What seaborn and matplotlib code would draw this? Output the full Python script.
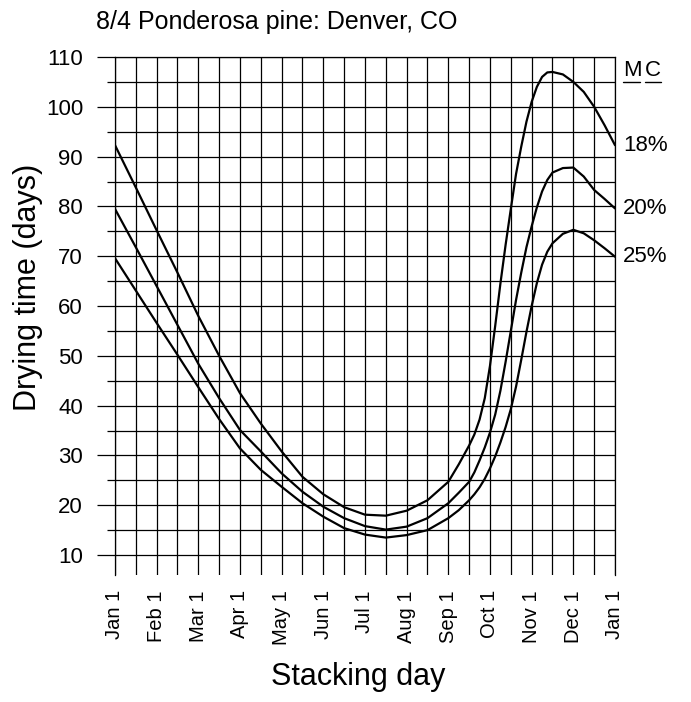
import pandas as pd
import matplotlib.pyplot as plt
import seaborn as sns
from matplotlib.ticker import MultipleLocator
from matplotlib.lines import Line2D

# stacking day as month index (0 = Jan 1, 12 = next Jan 1)
month = [0, 0.5, 1, 1.5, 2, 2.5, 3, 3.5, 4, 4.5, 5, 5.5, 6, 6.5, 7, 7.5, 8, 8.25,
         8.5, 8.625, 8.75, 8.875, 9, 9.125, 9.25, 9.375, 9.5, 9.625, 9.75, 9.875,
         10, 10.125, 10.25, 10.375, 10.5, 10.75, 11, 11.25, 11.5, 11.75, 12]

# drying time (days) for each final moisture content
mc18 = [92.3, 83.8, 75.2, 66.7, 58.0, 50.0, 42.5, 36.4, 30.8, 25.7, 22.2, 19.6, 18.1, 17.9, 18.9, 21.0, 24.7, 28.2,
        32.0, 34.2, 37.2, 41.5, 48.0, 56.0, 64.5, 72.3, 79.5, 86.5, 92.0, 97.0,
        101.0, 104.0, 106.0, 106.9, 107.0, 106.5, 105.0, 103.0, 100.0, 96.3, 92.3]
mc20 = [79.5, 71.8, 64.0, 56.2, 48.4, 41.5, 35.1, 30.8, 26.4, 22.7, 19.7, 17.4, 15.8, 15.1, 15.7, 17.4, 20.4, 22.5,
        24.7, 26.6, 29.0, 31.6, 34.6, 38.2, 43.0, 48.8, 55.0, 61.2, 66.7, 71.8,
        76.0, 79.8, 83.0, 85.3, 86.8, 87.7, 87.8, 86.0, 83.3, 81.5, 79.6]
mc25 = [69.6, 63.1, 56.6, 50.2, 43.7, 37.3, 31.4, 27.1, 23.7, 20.4, 17.7, 15.4, 14.1, 13.5, 14.0, 15.0, 17.4, 19.0,
        21.0, 22.2, 23.6, 25.3, 27.4, 29.8, 32.6, 35.7, 39.3, 43.8, 49.2, 54.8,
        60.0, 64.6, 68.3, 70.9, 72.6, 74.5, 75.3, 74.6, 73.2, 71.6, 69.9]

mc_labels = ["18%", "20%", "25%"]
month_labels = ["Jan 1", "Feb 1", "Mar 1", "Apr 1", "May 1", "Jun 1", "Jul 1",
                "Aug 1", "Sep 1", "Oct 1", "Nov 1", "Dec 1", "Jan 1"]

df = pd.concat([
    pd.DataFrame({"month": month, "days": vals, "mc": lab})
    for vals, lab in zip([mc18, mc20, mc25], mc_labels)
])

sns.set_style("white")
plt.rcParams["font.family"] = ["Liberation Sans", "DejaVu Sans"]
plt.rcParams["text.color"] = "black"
plt.rcParams["xtick.color"] = "black"
plt.rcParams["ytick.color"] = "black"

fig = plt.figure(figsize=(6.91, 7.02), dpi=100)
ax = fig.add_axes([0.1664, 0.181, 0.7236, 0.7378])

sns.lineplot(data=df, x="month", y="days", hue="mc", palette=["black"] * 3,
             linewidth=1.6, legend=False, ax=ax)
for ln in ax.lines:
    ln.set_solid_joinstyle("round")

ax.set_xlim(0, 12)
ax.set_ylim(6, 110)
ax.xaxis.set_minor_locator(MultipleLocator(0.5))
ax.yaxis.set_minor_locator(MultipleLocator(5))
ax.set_yticks(range(10, 111, 10))
ax.set_xticks(range(0, 13))
ax.set_xticklabels(month_labels, rotation=90)

ax.grid(True, which="both", color="black", linewidth=0.9)
ax.set_axisbelow(True)
for s in ["left", "right", "top"]:
    ax.spines[s].set_color("black")
    ax.spines[s].set_linewidth(0.9)
ax.spines["bottom"].set_visible(False)

ax.tick_params(axis="x", which="both", length=0, pad=11, labelsize=14.5)
ax.tick_params(axis="y", which="major", length=13, width=0.9, pad=10, labelsize=16, left=True)
ax.tick_params(axis="y", which="minor", length=6, width=0.9, left=True)

ax.set_xlabel("")
ax.set_ylabel("")
fig.text(0.4, 0.969, "8/4 Ponderosa pine: Denver, CO", ha="center", va="center", fontsize=18)
fig.text(0.518, 0.036, "Stacking day", ha="center", va="center", fontsize=22)
fig.text(0.04, 0.591, "Drying time (days)", ha="center", va="center", rotation=90, fontsize=22)

# curve labels at the right end
for vals, lab in zip([mc18, mc20, mc25], mc_labels):
    ax.text(12.2, vals[-1], lab, ha="left", va="center", fontsize=16, clip_on=False)

ax.text(12.2, 107.3, "M", ha="left", va="center", fontsize=16, clip_on=False)
ax.text(12.72, 107.3, "C", ha="left", va="center", fontsize=16, clip_on=False)
for x0, x1 in [(12.2, 12.6), (12.72, 13.1)]:
    ax.add_line(Line2D([x0, x1], [104.9, 104.9], color="black", linewidth=1.0, clip_on=False))

fig.savefig("out.png", dpi=100)
